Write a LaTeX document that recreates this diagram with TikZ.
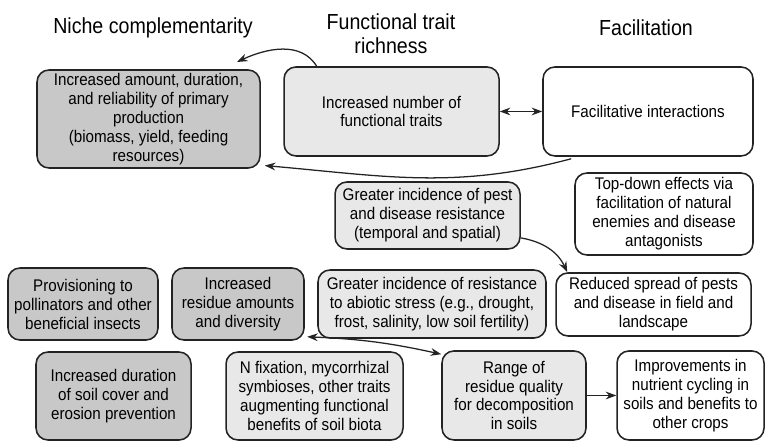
\documentclass[tikz,border=0pt]{standalone}
\usepackage{fontspec}
\setmainfont[FakeStretch=0.9]{Liberation Sans}
\usetikzlibrary{arrows.meta}
\definecolor{rim}{RGB}{35,35,35}
\definecolor{darkfill}{RGB}{200,200,200}
\definecolor{lightfill}{RGB}{232,232,232}
\tikzset{
  box/.style={draw=rim, line width=1.1pt, rounded corners=8.5pt, align=center, inner sep=0pt,
    font=\fontsize{12}{13.5}\selectfont},
  darkbox/.style={box, fill=darkfill},
  lightbox/.style={box, fill=lightfill},
  whitebox/.style={box, fill=white},
  heading/.style={align=center, font=\fontsize{15.5}{17}\selectfont},
  flow/.style={line width=0.9pt, draw=rim, -{Stealth[length=7.5pt,width=5.5pt]}},
  twoflow/.style={line width=0.9pt, draw=rim, {Stealth[length=7.5pt,width=5.5pt]}-{Stealth[length=7.5pt,width=5.5pt]}},
}

\begin{document}
\begin{tikzpicture}
\useasboundingbox (0,0) rectangle (19.15,11.05);
\node[heading] (nichetitle) at (3.825,10.350) {Niche complementarity};
\node[heading] (traittitle) at (9.775,10.200) {Functional trait\\richness};
\node[heading] (faciltitle) at (16.150,10.350) {Facilitation};
\node[darkbox, minimum width=5.575cm, minimum height=2.450cm] (prod) at (3.713,8.075)
  {Increased amount, duration,\\and reliability of primary\\production\\(biomass, yield, feeding\\resources)};
\node[lightbox, minimum width=5.375cm, minimum height=2.225cm] (traits) at (9.788,8.263)
  {Increased number of\\functional traits};
\node[whitebox, minimum width=5.250cm, minimum height=2.225cm] (facil) at (16.200,8.263)
  {Facilitative interactions};
\node[lightbox, minimum width=4.625cm, minimum height=1.675cm] (pest) at (10.688,5.663)
  {Greater incidence of pest\\and disease resistance\\(temporal and spatial)};
\node[whitebox, minimum width=4.450cm, minimum height=2.050cm] (topdown) at (16.600,5.700)
  {Top-down effects via\\facilitation of natural\\enemies and disease\\antagonists};
\node[darkbox, minimum width=3.750cm, minimum height=1.800cm] (pollin) at (2.075,3.450)
  {Provisioning to\\pollinators and other\\beneficial insects};
\node[darkbox, minimum width=3.300cm, minimum height=1.800cm] (residue) at (5.950,3.450)
  {Increased\\residue amounts\\and diversity};
\node[lightbox, minimum width=5.700cm, minimum height=1.700cm] (abiotic) at (10.800,3.450)
  {Greater incidence of resistance\\to abiotic stress (e.g., drought,\\frost, salinity, low soil fertility)};
\node[whitebox, minimum width=4.875cm, minimum height=1.575cm] (spread) at (16.338,3.438)
  {Reduced spread of pests\\and disease in field and\\landscape};
\node[darkbox, minimum width=3.875cm, minimum height=2.200cm] (cover) at (2.838,1.150)
  {Increased duration\\of soil cover and\\erosion prevention};
\node[lightbox, minimum width=4.425cm, minimum height=2.200cm] (nfix) at (7.863,1.150)
  {N fixation, mycorrhizal\\symbioses, other traits\\augmenting functional\\benefits of soil biota};
\node[lightbox, minimum width=3.600cm, minimum height=2.225cm] (range) at (12.850,1.163)
  {Range of\\residue quality\\for decomposition\\in soils};
\node[whitebox, minimum width=3.675cm, minimum height=2.225cm] (improve) at (17.263,1.163)
  {Improvements in\\nutrient cycling in\\soils and benefits to\\other crops};
\coordinate (nicheend) at (5.925,9.500);
\draw[flow] ([xshift=0.850cm,yshift=-0.025cm]traits.north west) to[out=120, in=25] (nicheend);
\draw[flow] ([xshift=0.725cm,yshift=-0.050cm]facil.south west) to[out=195, in=-5] ([shift={(0.100,0.080)}]prod.south east);
\draw[twoflow] (traits) -- (facil);
\draw[flow] ([yshift=-0.560cm]pest.east) to[out=-10, in=115] ([xshift=0.300cm]spread.north west);
\draw[twoflow] ([shift={(0.060,0.100)}]residue.south east) to[bend left=5] ([yshift=-0.100cm]range.north west);
\draw[flow] (range) -- (improve);
\end{tikzpicture}
\end{document}
